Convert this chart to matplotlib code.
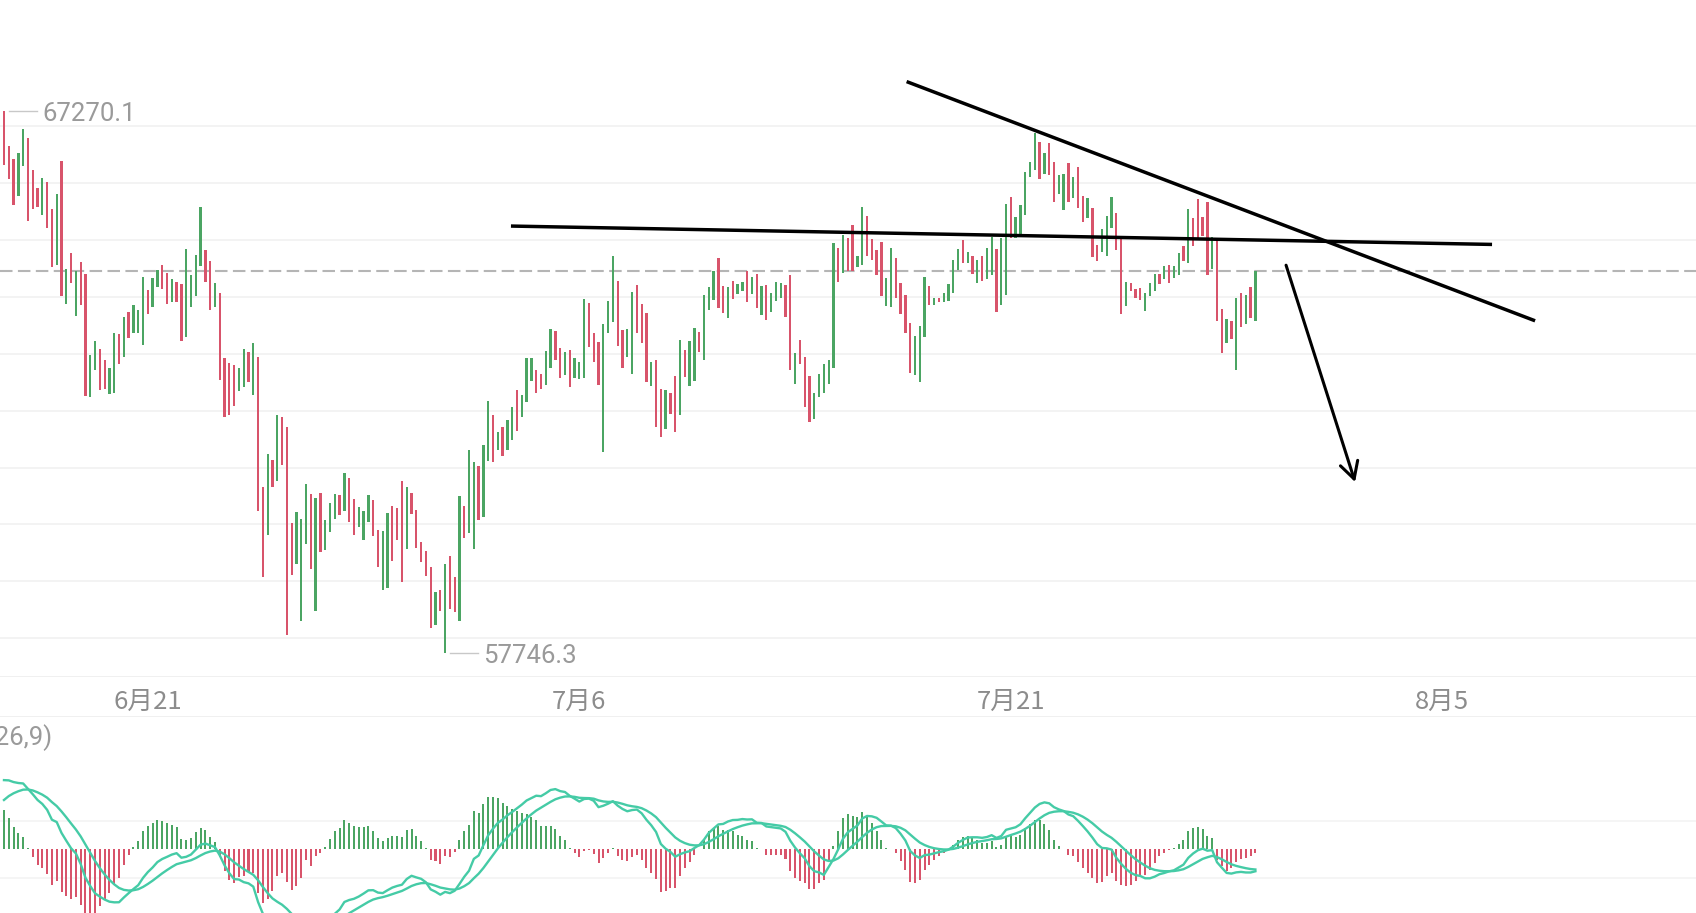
import matplotlib.pyplot as plt
import numpy as np
import pandas as pd

plt.rcParams['font.family'] = ['Roboto', 'Noto Sans CJK SC', 'DejaVu Sans']

# 4h candles, first one on 16 June
start = '2024-06-16 00:00'

opens = [
    67270.1, 66660, 66420, 65780, 66310, 66790, 66230, 65910, 65440, 66020,
    65540, 64570, 66390, 63880, 64770, 63670, 64620, 64410, 62240, 62710,
    63080, 62890, 62290, 62320, 63350, 62950, 63740, 63370, 63360, 63160,
    64130, 63830, 64180, 64570, 64430, 63910, 64260, 64230, 63300, 63830,
    64020, 64540, 64820, 64630, 63820, 64070, 62920, 62840, 62800, 62340,
    62420, 63040, 62280, 62950, 60660, 59820, 61130, 60760, 61890, 61710,
    60030, 59300, 58310, 59660, 60540, 58480, 60550, 59550, 59860, 60100,
    60510, 60230, 60820, 60450, 59960, 59730, 60040, 60430, 59910, 58850,
    58880, 60320, 60290, 60760, 59560, 60560, 60250, 59690, 59530, 59250,
    58230, 58850, 57746.3, 59440, 59070, 58310, 60320, 59850, 59560, 61030,
    60130, 61120, 61920, 61310, 61720, 61310, 61490, 62360, 61890, 62160,
    62530, 62710, 62640, 62460, 62750, 63410, 63110, 62630, 63070, 62580,
    62560, 62580, 63890, 63370, 63210, 61280, 63360, 63560, 64280, 63420,
    62950, 62640, 64210, 63870, 63720, 62440, 62900, 62390, 61670, 62310,
    62610, 61920, 63060, 62440, 62530, 63380, 62890, 63770, 63940, 64680,
    64200, 63640, 64280, 64050, 64110, 64460, 64060, 64410, 63680, 64210,
    63740, 63930, 63990, 64210, 64390, 62470, 63250, 62950, 62610, 61850,
    62240, 62310, 62470, 62760, 64870, 64430, 65030, 65260, 64520, 64570,
    65430, 65020, 64820, 64960, 63850, 63830, 64680, 64250, 64030, 63550,
    62630, 62510, 63300, 64190, 63860, 63990, 63910, 63930, 64070, 64480,
    65010, 64590, 64720, 64250, 64730, 64320, 64380, 64840, 63860, 64040,
    65760, 65040, 65090, 65450, 66110, 66230, 66720, 66170, 66710, 66380,
    65810, 65530, 66350, 65750, 66280, 65780, 65390, 65560, 64920, 64800,
    64730, 65220, 65470, 65050, 63850, 64250, 64150, 64160, 63760, 64010,
    64100, 64400, 64320, 64570, 64340, 64380, 64900, 64600, 65390, 65730,
    65410, 65670, 64500, 65010, 63790, 63190, 63570, 62710, 64070, 63520,
    64180, 63570,
]

closes = [
    66330, 66080, 65620, 66540, 66960, 65340, 65540, 65580, 66100, 65220,
    64530, 65820, 64020, 64500, 64240, 64460, 63860, 62260, 62980, 63230,
    62360, 62390, 62750, 63370, 62830, 63650, 63280, 63860, 63770, 64350,
    63710, 64330, 64470, 64140, 63870, 64320, 63910, 63230, 64840, 64380,
    64740, 65580, 64260, 63770, 64250, 62540, 61890, 61920, 62080, 62760,
    63080, 62500, 63190, 60240, 59070, 61240, 60660, 61920, 61040, 58060,
    59110, 60220, 60100, 60710, 59220, 60470, 59520, 60080, 60380, 60540,
    60170, 60910, 60050, 59820, 60300, 60230, 60520, 59790, 59250, 59880,
    60210, 59360, 59720, 58980, 60660, 60180, 59590, 59340, 59090, 58170,
    58810, 58470, 59300, 58520, 58460, 60500, 59760, 61310, 61090, 60080,
    61400, 62170, 61100, 61620, 61210, 61830, 62060, 61650, 62280, 62930,
    62930, 62310, 62390, 63050, 63430, 62890, 62580, 63030, 62420, 62930,
    62860, 63960, 63120, 62860, 62460, 63520, 63930, 64720, 63130, 62760,
    63440, 64080, 63360, 63190, 62510, 62860, 61710, 61530, 62360, 61940,
    61620, 63240, 62590, 63220, 63460, 63030, 64030, 64170, 64450, 63800,
    63720, 64180, 63960, 64230, 64260, 63910, 64360, 63800, 64190, 63590,
    64070, 64260, 64250, 63650, 62710, 63020, 62830, 62070, 61810, 62310,
    62640, 62830, 62900, 64950, 64270, 65100, 64460, 64450, 64720, 65590,
    64720, 64650, 64380, 64020, 64340, 64870, 63980, 63710, 63370, 62670,
    63320, 63490, 64350, 63860, 63990, 63910, 64070, 64230, 64650, 64840,
    64600, 64790, 64410, 64650, 64280, 64870, 65050, 63740, 65040, 65640,
    65030, 65400, 65620, 66200, 66380, 66890, 66070, 66540, 66150, 65670,
    66140, 66170, 65670, 66110, 65560, 65320, 65750, 64700, 64630, 65190,
    65420, 65760, 64820, 63710, 64260, 64100, 63990, 63940, 64070, 64250,
    64410, 64230, 64540, 64250, 64540, 64780, 64630, 65540, 64890, 65040,
    65070, 64380, 65050, 63570, 63020, 63620, 63270, 63990, 63470, 64040,
    63630, 64460,
]

# MACD(12,26,9) histogram, read bar by bar
macd_hist = [
    477, 377, 269, 197, 149, 17, -91, -183, -223, -291,
    -423, -383, -515, -563, -595, -575, -663, -795, -795, -775,
    -683, -603, -523, -431, -343, -183, -63, 29, 97, 217,
    285, 317, 357, 345, 317, 297, 265, 125, 117, 137,
    205, 257, 229, 149, 85, -91, -263, -363, -403, -331,
    -315, -275, -283, -523, -643, -595, -503, -323, -283, -395,
    -483, -435, -343, -123, -203, -83, -43, 29, 125, 217,
    257, 349, 317, 277, 265, 269, 277, 225, 133, 97,
    133, 157, 157, 149, 229, 245, 165, 105, 17, -123,
    -143, -171, -83, -91, -27, 109, 225, 297, 465, 437,
    549, 629, 629, 613, 557, 525, 485, 457, 437, 429,
    389, 357, 277, 277, 285, 245, 157, 109, 13, -43,
    -91, -23, -11, -51, -163, -103, -43, 13, -75, -123,
    -143, -91, -63, -123, -223, -283, -355, -515, -503, -463,
    -463, -323, -223, -155, -63, 5, 109, 217, 257, 285,
    237, 237, 217, 177, 157, 117, 97, 13, 5, -63,
    -63, -63, -63, -115, -263, -343, -383, -403, -475, -475,
    -403, -371, -143, 37, 217, 377, 425, 405, 389, 445,
    405, 317, 225, 109, 13, 5, -43, -143, -243, -395,
    -403, -371, -243, -183, -123, -75, -43, -3, 57, 117,
    149, 165, 137, 109, 77, 77, 97, 25, 57, 165,
    157, 149, 177, 257, 309, 349, 349, 309, 229, 109,
    45, 5, -63, -83, -155, -223, -283, -343, -403, -395,
    -323, -283, -383, -423, -435, -423, -383, -323, -303, -243,
    -163, -83, -43, -3, 17, 69, 109, 217, 257, 269,
    245, 157, 137, -123, -203, -263, -223, -155, -115, -103,
    -83, -43,
]
dea_start = 592

date_ticks = ['2024-06-21', '2024-07-06', '2024-07-21', '2024-08-05']
date_labels = ['6月21', '7月6', '7月21', '8月5']

# hand drawn lines (candle index, price)
flat_line_x = [106.1, 310.0]
flat_line_y = [65248, 64926]
down_line_x = [188.6, 319.0]
down_line_y = [67779, 63593]
arrow_from = (267.4, 64560)
arrow_to = (281.8, 60746)

green = '#4ba563'
red = '#d8546b'
teal = '#45cba6'
grey_txt = '#9a9a9a'

times = pd.date_range(start, periods=len(opens), freq='4h')
x = np.arange(len(opens))
o = np.array(opens, dtype=float)
c = np.array(closes, dtype=float)
colors = np.where(c >= o, green, red)

W, H = 1696, 913
fig = plt.figure(figsize=(W / 100, H / 100), dpi=100)
ax = fig.add_axes([0, 1 - 676 / H, 1, 676 / H])
axd = fig.add_axes([0, 196 / H, 1, 41 / H])
axm = fig.add_axes([0, 0, 1, 196 / H])
for a in (ax, axd, axm):
    a.set_xlim(-0.83, 352.9)
    a.set_xticks([])
    a.set_yticks([])
    for s in a.spines.values():
        s.set_visible(False)

# price panel
ax.set_ylim(57334, 69225)
for g in range(58000, 68000, 1000):
    ax.axhline(g, color='#f0f0f0', lw=1.1, zorder=0)
ax.bar(x, np.abs(c - o), bottom=np.minimum(o, c), width=0.48,
       color=colors, linewidth=0, zorder=2)
ax.axhline(closes[-1], color='#b5b5b5', lw=1.5, dashes=(6, 2.6), zorder=1)

hi_i = int(np.argmax(np.maximum(o, c)))
hi = np.maximum(o, c)[hi_i]
lo_i = int(np.argmin(np.minimum(o, c)))
lo = np.minimum(o, c)[lo_i]
for i, v in ((hi_i, hi), (lo_i, lo)):
    ax.plot([i + 1.1, i + 6.9], [v, v], color='#c8c8c8', lw=1.0)
    ax.annotate(f'{v:.1f}', xy=(i + 8.0, v), xytext=(0, -2.2),
                textcoords='offset points', va='center', ha='left',
                fontsize=18.5, color=grey_txt)

ax.plot(flat_line_x, flat_line_y, color='black', lw=2.5, zorder=5)
ax.plot(down_line_x, down_line_y, color='black', lw=2.5, zorder=5)
ax.annotate('', xy=arrow_to, xytext=arrow_from,
            arrowprops=dict(arrowstyle='->,head_length=1.2,head_width=0.65',
                            color='black', lw=2.2, shrinkA=0, shrinkB=0,
                            mutation_scale=10), zorder=5)

# date strip
axd.set_ylim(0, 1)
axd.axhline(1, color='#eeeeee', lw=1.2)
axd.axhline(0, color='#eeeeee', lw=1.2)
for d, lab in zip(date_ticks, date_labels):
    pos = (pd.Timestamp(d) - times[0]) / pd.Timedelta('4h')
    axd.text(pos, 0.36, lab, ha='center', va='center', fontsize=18.5,
             color='#8c8c8c', family=['Noto Sans CJK SC', 'DejaVu Sans'])

# MACD panel: DEA moves by hist/8 each bar, DIF = DEA + hist/2
hist = np.array(macd_hist, dtype=float)
dea = dea_start + np.concatenate([[0.0], np.cumsum(hist[1:])]) / 8
dif = dea + hist / 2
axm.set_ylim(-764, 1588)
axm.axhline(340, color='#f2f2f2', lw=1.1, zorder=0)
axm.axhline(-340, color='#f2f2f2', lw=1.1, zorder=0)
axm.bar(x, hist, width=0.42, color=np.where(hist >= 0, green, red),
        linewidth=0, zorder=2)
axm.plot(x, dif, color=teal, lw=1.7, zorder=3)
axm.plot(x, dea, color=teal, lw=1.7, zorder=3)
fig.text(53 / W, 1 - 737.5 / H, 'MACD(12,26,9)', ha='right', va='center',
         fontsize=18.5, color=grey_txt)

fig.savefig('out.png', dpi=100)
